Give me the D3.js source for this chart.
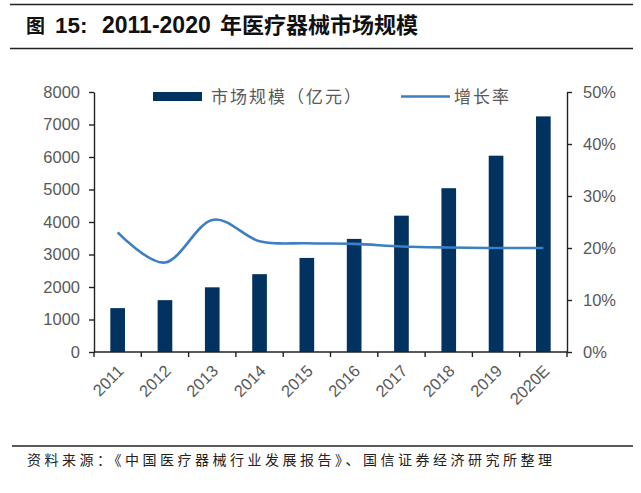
<!DOCTYPE html>
<html>
<head>
<meta charset="utf-8">
<script src="https://cdn.jsdelivr.net/npm/d3@7"></script>
<style>
  html, body { margin: 0; padding: 0; background: #fff; }
  svg { display: block; }
  text { font-family: "Liberation Sans", Arial, "Noto Sans CJK SC", sans-serif; }
</style>
</head>
<body>
<svg id="chart" width="641" height="493"></svg>
<script>
const titleParts = ["图", "15:", "2011-2020", "年医疗器械市场规模"];
const sourceText = "资料来源：《中国医疗器械行业发展报告》、国信证券经济研究所整理";
const categories = ["2011", "2012", "2013", "2014", "2015", "2016", "2017", "2018", "2019", "2020E"];
const marketSize = [1350, 1595, 1990, 2395, 2895, 3480, 4195, 5040, 6040, 7250];
const growthRate = [23.0, 17.2, 25.4, 21.3, 20.9, 20.8, 20.3, 20.1, 20.0, 20.0];
const leftTicks = [0, 1000, 2000, 3000, 4000, 5000, 6000, 7000, 8000];
const rightTicks = [0, 10, 20, 30, 40, 50];
const seriesNames = ["市场规模（亿元）", "增长率"];

const svg = d3.select("#chart");
const barColor = "#02325f";
const lineColor = "#3d7ec4";
const labelColor = "#595959";

// header rules and title
svg.append("line").attr("x1", 10).attr("x2", 633).attr("y1", 4.5).attr("y2", 4.5)
  .attr("stroke", "#222").attr("stroke-width", 1.5);
svg.append("line").attr("x1", 10).attr("x2", 633).attr("y1", 48.5).attr("y2", 48.5)
  .attr("stroke", "#222").attr("stroke-width", 1.5);
const title = svg.append("text").attr("y", 33).attr("font-weight", "bold").attr("fill", "#111");
const titleX = [26, 55, 102, 220];
const titleSize = [19, 22.5, 23, 22];
titleParts.forEach((t, i) => {
  title.append("tspan").attr("x", titleX[i]).attr("font-size", titleSize[i])
    .style("font-family", i === 0 || i === 3 ? '"Noto Sans CJK SC", sans-serif' : '"Liberation Sans", Arial, sans-serif')
    .text(t);
});

// footer
svg.append("line").attr("x1", 12).attr("x2", 633).attr("y1", 446).attr("y2", 446)
  .attr("stroke", "#222").attr("stroke-width", 1.5);
svg.append("text").attr("x", 27).attr("y", 465)
  .attr("font-size", 14).attr("fill", "#222").style("letter-spacing", "3.5px")
  .style("font-family", '"Noto Sans CJK SC", sans-serif')
  .text(sourceText);

// scales
const x = d3.scaleBand().domain(categories).range([94, 567])
  .paddingInner(0.69).paddingOuter(0.345);
const yL = d3.scaleLinear().domain([0, 8000]).range([352, 92]);
const yR = d3.scaleLinear().domain([0, 50]).range([352, 92]);
const step = x.step();

// bars
svg.append("g").selectAll("rect").data(categories).join("rect")
  .attr("x", d => x(d))
  .attr("width", x.bandwidth())
  .attr("y", (d, i) => yL(marketSize[i]))
  .attr("height", (d, i) => yL(0) - yL(marketSize[i]))
  .attr("fill", barColor);

// line
const line = d3.line()
  .x((d, i) => x(categories[i]) + x.bandwidth() / 2)
  .y(d => yR(d))
  .curve(d3.curveCardinal.tension(0));
svg.append("path").datum(growthRate)
  .attr("d", line).attr("fill", "none")
  .attr("stroke", lineColor).attr("stroke-width", 2.6)
  .attr("stroke-linejoin", "round").attr("stroke-linecap", "butt");

// left axis
const gL = svg.append("g").attr("transform", "translate(94,0)")
  .call(d3.axisLeft(yL).tickValues(leftTicks).tickSize(5).tickSizeOuter(0).tickPadding(9).tickFormat(d3.format("d")));
// right axis
const gR = svg.append("g").attr("transform", "translate(567,0)")
  .call(d3.axisRight(yR).tickValues(rightTicks).tickSize(5).tickSizeOuter(0).tickPadding(11).tickFormat(d => d + "%"));
[gL, gR].forEach(g => {
  g.select(".domain").attr("stroke", "#222").attr("stroke-width", 1.4);
  g.selectAll(".tick line").attr("stroke", "#222").attr("stroke-width", 1.4);
  g.selectAll(".tick text").attr("fill", labelColor).attr("font-size", 16.5)
    .style("font-family", '"Liberation Sans", Arial, sans-serif');
});

// bottom axis (ticks at category boundaries)
const gB = svg.append("g");
gB.append("line").attr("x1", 94).attr("x2", 567).attr("y1", 352).attr("y2", 352)
  .attr("stroke", "#222").attr("stroke-width", 1.4);
const boundaries = categories.map(c => x(c) - (step - x.bandwidth()) / 2)
  .concat([x(categories[categories.length - 1]) + x.bandwidth() + (step - x.bandwidth()) / 2]);
gB.selectAll("line.tk").data(boundaries).join("line").attr("class", "tk")
  .attr("x1", d => d).attr("x2", d => d).attr("y1", 352).attr("y2", 357)
  .attr("stroke", "#222").attr("stroke-width", 1.4);
gB.selectAll("text").data(categories).join("text")
  .attr("transform", d => `translate(${x(d) + x.bandwidth() / 2 + 3},${368}) rotate(-45)`)
  .attr("text-anchor", "end").attr("dy", "0.35em")
  .attr("fill", labelColor).attr("font-size", 16.5)
  .style("font-family", '"Liberation Sans", Arial, sans-serif')
  .text(d => d);

// legend
const lg = svg.append("g");
lg.append("rect").attr("x", 153).attr("y", 92).attr("width", 49).attr("height", 9).attr("fill", barColor);
lg.append("text").attr("x", 211).attr("y", 103).attr("font-size", 17).attr("fill", labelColor)
  .style("letter-spacing", "2px").style("font-family", '"Noto Sans CJK SC", sans-serif')
  .text(seriesNames[0]);
lg.append("line").attr("x1", 401).attr("x2", 450).attr("y1", 96.5).attr("y2", 96.5)
  .attr("stroke", lineColor).attr("stroke-width", 2.6);
lg.append("text").attr("x", 454).attr("y", 103).attr("font-size", 17).attr("fill", labelColor)
  .style("letter-spacing", "2px").style("font-family", '"Noto Sans CJK SC", sans-serif')
  .text(seriesNames[1]);
</script>
</body>
</html>
